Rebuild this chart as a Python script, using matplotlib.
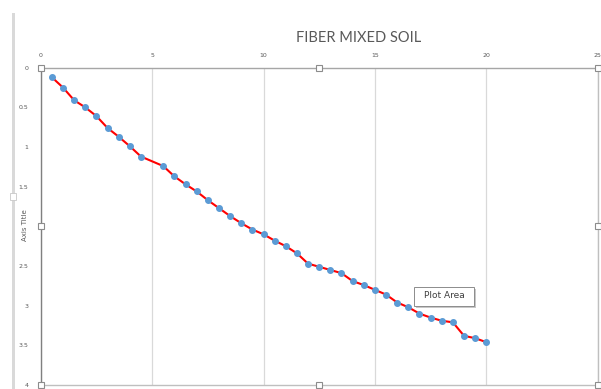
import matplotlib
matplotlib.use("Agg")
from matplotlib import pyplot as plt
from matplotlib.patches import Rectangle

# data
x = [0.5, 1.0, 1.5, 2.0, 2.5, 3.0, 3.5, 4.0, 4.5, 5.5, 6.0, 6.5, 7.0, 7.5,
     8.0, 8.5, 9.0, 9.5, 10.0, 10.5, 11.0, 11.5, 12.0, 12.5, 13.0, 13.5,
     14.0, 14.5, 15.0, 15.5, 16.0, 16.5, 17.0, 17.5, 18.0, 18.5, 19.0, 19.5, 20.0]
depth = [0.12, 0.25, 0.41, 0.50, 0.61, 0.76, 0.87, 0.99, 1.12, 1.24, 1.37,
         1.47, 1.56, 1.67, 1.77, 1.87, 1.96, 2.04, 2.10, 2.18, 2.25, 2.34,
         2.47, 2.51, 2.55, 2.59, 2.69, 2.74, 2.80, 2.86, 2.96, 3.02, 3.10,
         3.15, 3.19, 3.21, 3.38, 3.41, 3.46]
xticks = [0, 5, 10, 15, 20, 25]
yticks = [0, 0.5, 1, 1.5, 2, 2.5, 3, 3.5, 4]
ytick_labels = ["0", "0.5", "1", "1.5", "", "2.5", "3", "3.5", "4"]

W, H = 601, 389
fig = plt.figure(figsize=(W / 100, H / 100), dpi=100)
px = lambda v: v / W
py = lambda v: 1 - v / H

left, right, top, bottom = 40.7, 597.7, 67.7, 385.0
ax = fig.add_axes([px(left), py(bottom), px(right - left), (bottom - top) / H])

ax.plot(x, depth, color="#ff0000", lw=1.5, zorder=3)
ax.plot(x, depth, ls="none", marker="o", ms=4.0, color="#5b9bd5", zorder=4)

ax.set_xlim(0, 25)
ax.set_ylim(4, 0)
ax.xaxis.tick_top()
ax.set_xticks(xticks)
ax.set_xticklabels([str(v) for v in xticks])
ax.set_yticks(yticks)
ax.set_yticklabels(ytick_labels)
ax.tick_params(axis="both", length=0, labelsize=4.5, colors="#595959")
ax.tick_params(axis="x", pad=7)
ax.tick_params(axis="y", pad=9)
ax.grid(axis="x", color="#d9d9d9", lw=0.9)
ax.set_axisbelow(True)
for s in ax.spines.values():
    s.set_color("#bfbfbf")
    s.set_linewidth(1.0)
ax.spines["left"].set_color("#808080")
ax.spines["top"].set_color("#a6a6a6")

# selection handles of the plot area
for hx, hy in [(left, top), ((left + right) / 2, top), (right, top),
               (left, (top + bottom) / 2), (right, (top + bottom) / 2),
               (left, bottom), ((left + right) / 2, bottom), (right, bottom)]:
    fig.patches.append(Rectangle((px(hx - 3), py(hy + 3)), 6 / W, 6 / H,
                                 transform=fig.transFigure, facecolor="white",
                                 edgecolor="#8c8c8c", lw=0.8, zorder=10))

# chart area border on the left
fig.patches.append(Rectangle((px(12), py(389)), 3 / W, (389 - 13) / H,
                             transform=fig.transFigure, facecolor="#d9d9d9",
                             edgecolor="none", zorder=1))
fig.patches.append(Rectangle((px(10), py(200)), 6 / W, 7 / H,
                             transform=fig.transFigure, facecolor="white",
                             edgecolor="#c8c8c8", lw=0.6, zorder=2))

fig.text(px(359), py(38.5), "FIBER MIXED SOIL", family="Lato", fontsize=10.5,
         color="#595959", ha="center", va="center")
fig.text(px(25), py(225), "Axis Title", fontsize=5, color="#595959",
         rotation=90, ha="center", va="center")

# tooltip with a soft shadow
fig.patches.append(Rectangle((px(416), py(307.5)), 60 / W, 19 / H,
                             transform=fig.transFigure, facecolor="#c8c8c8",
                             edgecolor="none", zorder=11))
fig.patches.append(Rectangle((px(414), py(305.5)), 60 / W, 19 / H,
                             transform=fig.transFigure, facecolor="white",
                             edgecolor="#8c8c8c", lw=0.7, zorder=12))
fig.text(px(444), py(296), "Plot Area", fontsize=6.5, color="#404040",
         ha="center", va="center", zorder=13)

fig.savefig("out.png", dpi=100)
